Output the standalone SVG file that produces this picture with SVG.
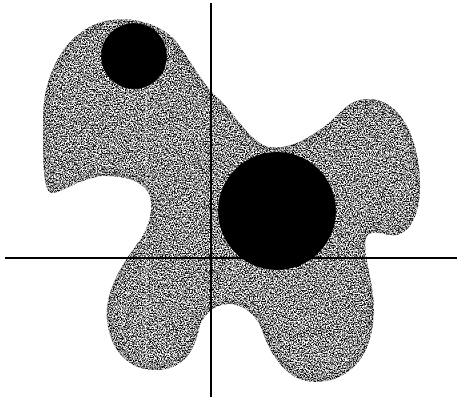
<svg xmlns="http://www.w3.org/2000/svg" width="457" height="400" viewBox="0 0 457 400">
<defs>
<style>
.axis{stroke:#000;stroke-width:2;fill:none}
.disc{fill:#000}
.blob{fill:#9c9c9c}
</style>
<filter id="grain" x="0" y="0" width="1" height="1" color-interpolation-filters="sRGB">
<feTurbulence type="fractalNoise" baseFrequency="0.75" numOctaves="3" seed="7" result="noise"/>
<feColorMatrix in="noise" type="matrix" values="3.2 0 0 0 -1.04  3.2 0 0 0 -1.04  3.2 0 0 0 -1.04  0 0 0 0 1" result="gray"/>
<feComposite in="gray" in2="SourceGraphic" operator="in"/>
</filter>
<filter id="soft" x="-0.1" y="-0.1" width="1.2" height="1.2"><feGaussianBlur stdDeviation="3"/></filter>
<clipPath id="blobclip"><use href="#blobshape"/></clipPath>
<path id="blobshape" d="M112,20 C135,17 160,24 175,40 C190,58 200,82 218,98 C235,113 248,140 268,147 C290,150 310,138 330,122 C345,108 352,98 370,99 C395,100 412,125 418,160 C423,190 420,225 400,234 C388,239 372,226 366,238 C362,255 374,280 374,310 C374,345 358,380 318,382 C290,383 272,360 262,330 C256,315 245,305 230,304 C218,303 205,312 200,325 C195,350 185,370 155,370 C128,370 110,350 107,320 C104,290 125,260 140,240 C150,225 155,205 148,192 C140,180 125,176 105,176 C80,177 60,195 50,193 C42,185 43,150 43,120 C43,85 55,55 75,37 C88,26 100,21 112,20 Z"/>
</defs>
<rect width="457" height="400" fill="#fff"/>
<g id="region">
<use href="#blobshape" class="blob" filter="url(#grain)"/>
<g clip-path="url(#blobclip)">
<use href="#blobshape" fill="none" stroke="#000" stroke-width="8" opacity="0.18" filter="url(#soft)"/>
<line x1="146" y1="90" x2="146" y2="365" stroke="#fff" stroke-width="1.5" opacity="0.35"/>
</g>
</g>
<g id="small-disc"><circle class="disc" cx="134" cy="56" r="33"/></g>
<g id="large-disc"><circle class="disc" cx="277" cy="211" r="59"/></g>
<g id="axes">
<line class="axis" x1="211" y1="3" x2="211" y2="397"/>
<line class="axis" x1="5" y1="258" x2="457" y2="258"/>
</g>
</svg>
